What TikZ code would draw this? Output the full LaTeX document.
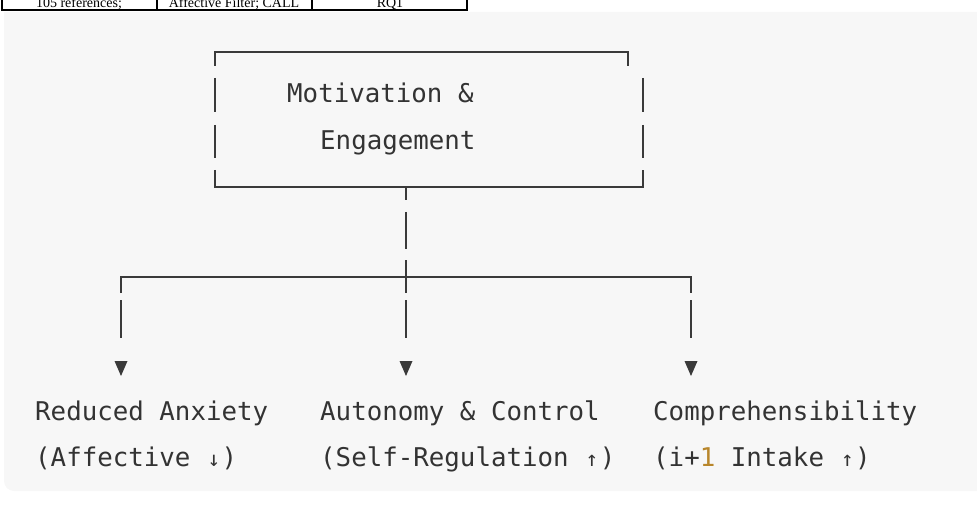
\documentclass[tikz,border=0pt]{standalone}
\usepackage{fontspec}
\setmainfont{Liberation Serif}
\newfontfamily\monofam{DejaVu Sans Mono}
\definecolor{bgray}{HTML}{F7F7F7}
\definecolor{ink}{HTML}{333333}
\definecolor{lineink}{HTML}{3A3A3A}
\definecolor{numcol}{HTML}{B8862B}
\newcommand{\smallarr}[1]{\makebox[0.602em]{\fontsize{21}{24}\selectfont #1}}
\begin{document}
\begin{tikzpicture}[x=1pt,y=-1pt,
  seg/.style={draw=lineink, line width=1.7pt},
  tblline/.style={draw=black, line width=2pt},
  lbl/.style={font=\monofam\fontsize{25.8}{30}\selectfont, text=ink, anchor=base west, inner sep=0pt},
  tbl/.style={font=\fontsize{14}{16}\selectfont, text=black, anchor=base, inner sep=0pt},
  tipshape/.style={fill=lineink}]
\useasboundingbox (0,0) rectangle (977,505);
\clip (0,0) rectangle (977,505);
% code block background
\fill[bgray] (990,12) -- (4,12) [rounded corners=10pt] -- (4,491) -- (990,491) -- cycle;
% cropped table at the top
\node[tbl] (t1) at (79,7.5) {105 references;};
\node[tbl] (t2) at (234,7.5) {Affective Filter; CALL};
\node[tbl] (t3) at (390,7.5) {RQ1};
\draw[tblline] (1.5,-5) -- (1.5,10.5) -- (467,10.5) -- (467,-5);
\draw[tblline] (157,-5) -- (157,10.5);
\draw[tblline] (312,-5) -- (312,10.5);
% box corners
\coordinate (tl) at (215,52);
\coordinate (tr) at (628,52);
\coordinate (bl) at (215,187);
\coordinate (br) at (643,187);
\coordinate (bs) at (406,187);
\coordinate (hl) at (121,277);
\coordinate (hc) at (406,277);
\coordinate (hr) at (691,277);
% box
\draw[seg] ([yshift=-14pt]tl) -- (tl) -- (tr) -- ([yshift=-14pt]tr);
\draw[seg] (215,78) -- (215,112);
\draw[seg] (215,125) -- (215,158);
\draw[seg] (643,78) -- (643,112);
\draw[seg] (643,125) -- (643,158);
\draw[seg] ([yshift=17pt]bl) -- (bl) -- (br) -- ([yshift=17pt]br);
\node[lbl] (motiv) at (287,103) {Motivation \&};
\node[lbl] (engage) at (320,150) {Engagement};
% stem
\draw[seg] (bs) -- ([yshift=-13pt]bs);
\draw[seg] (406,212) -- (406,249);
\draw[seg] ([yshift=17pt]hc) -- ([yshift=-16pt]hc);
% branch
\draw[seg] ([yshift=-16pt]hl) -- (hl) -- (hr) -- ([yshift=-16pt]hr);
\foreach \xx in {121,406,691}{
  \draw[seg] (\xx,300) -- (\xx,338);
  \fill[tipshape] (\xx-6.5,361) -- (\xx+6.5,361) -- (\xx,376) -- cycle;
}
% labels
\node[lbl] (ra) at (35,420) {Reduced Anxiety};
\node[lbl] (raS) at (35,466) {(Affective \smallarr{↓})};
\node[lbl] (ac) at (320,420) {Autonomy \& Control};
\node[lbl] (acS) at (320,466) {(Self-Regulation \smallarr{↑})};
\node[lbl] (cp) at (653,420) {Comprehensibility};
\node[lbl] (cpS) at (653,466) {(i+\textcolor{numcol}{1} Intake \smallarr{↑})};
\end{tikzpicture}
\end{document}
